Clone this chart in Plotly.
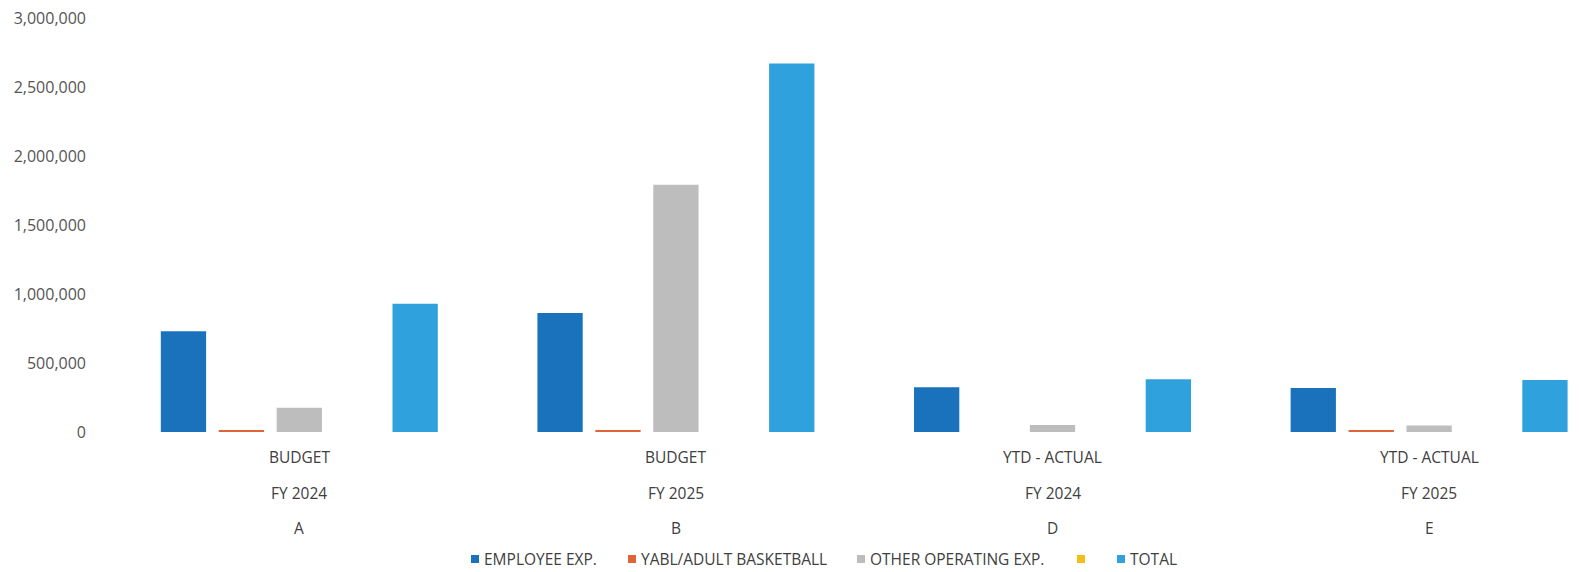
import plotly.graph_objects as go

# Category axis: three label rows per group
row1 = ["BUDGET", "BUDGET", "YTD - ACTUAL", "YTD - ACTUAL"]
row2 = ["FY 2024", "FY 2025", "FY 2024", "FY 2025"]
row3 = ["A", "B", "D", "E"]
groups = ["A", "B", "D", "E"]

# Series values
employee_exp = [730000, 863000, 325000, 318000]
yabl_adult_basketball = [10000, 15000, 0, 8000]
other_operating_exp = [175000, 1791000, 51000, 48000]
unnamed_series = [0, 0, 0, 0]
total = [930000, 2670000, 383000, 376000]

names = ["EMPLOYEE EXP.", "YABL/ADULT BASKETBALL", "OTHER OPERATING EXP.", "", "TOTAL"]
values = [employee_exp, yabl_adult_basketball, other_operating_exp, unnamed_series, total]
colors = ["#1a72bd", "#e0643a", "#bdbdbd", "#f2be1a", "#2fa1dc"]

fig = go.Figure()
for name, vals, color in zip(names, values, colors):
    fig.add_trace(go.Bar(x=groups, y=vals, name=name, marker_color=color,
                         marker_line_width=0, showlegend=False))

W, H = 1579, 572
plot_top, plot_bottom = 18, 432
plot_left = 111
pw = W - plot_left
ph = plot_bottom - plot_top


def px_x(x):
    return (x - plot_left) / pw


def px_y(y):
    return (plot_bottom - y) / ph


font_family = "Open Sans, Lato, sans-serif"
label_font = dict(family=font_family, size=15.5, color="#404040")

# Multi-row category labels beneath each group
for i, g in enumerate(groups):
    for text, ypix in ((row1[i], 457), (row2[i], 493), (row3[i], 528)):
        fig.add_annotation(x=g, xref="x", y=px_y(ypix), yref="paper",
                           text=text, showarrow=False, font=label_font,
                           xanchor="center", yanchor="middle")

# Legend row: small square swatch followed by its label
legend_y = 559
swatch = 8
legend_x = [471, 628, 857, 1077, 1117]
for name, color, lx in zip(names, colors, legend_x):
    fig.add_shape(type="rect", xref="paper", yref="paper",
                  x0=px_x(lx), x1=px_x(lx + swatch),
                  y0=px_y(legend_y + swatch / 2), y1=px_y(legend_y - swatch / 2),
                  fillcolor=color, line_width=0)
    if name:
        fig.add_annotation(x=px_x(lx + swatch + 3), xref="paper",
                           y=px_y(legend_y), yref="paper", text=name,
                           showarrow=False, xanchor="left", yanchor="middle",
                           font=dict(family=font_family, size=15.5, color="#404040"))

fig.update_layout(
    width=W, height=H,
    margin=dict(l=plot_left, r=0, t=plot_top, b=H - plot_bottom),
    paper_bgcolor="white", plot_bgcolor="white",
    barmode="group", bargap=0.231, bargroupgap=0.218,
    showlegend=False,
    xaxis=dict(range=[-0.5, 3.398], showticklabels=False, showline=False,
               showgrid=False, zeroline=False, ticks=""),
    yaxis=dict(range=[0, 3000000], tickvals=[0, 500000, 1000000, 1500000,
                                            2000000, 2500000, 3000000],
               tickformat=",d", showgrid=False, zeroline=False, showline=False,
               ticks="", ticklabelstandoff=24,
               tickfont=dict(family=font_family, size=16, color="#555555")),
)

fig.write_html("out.html")
